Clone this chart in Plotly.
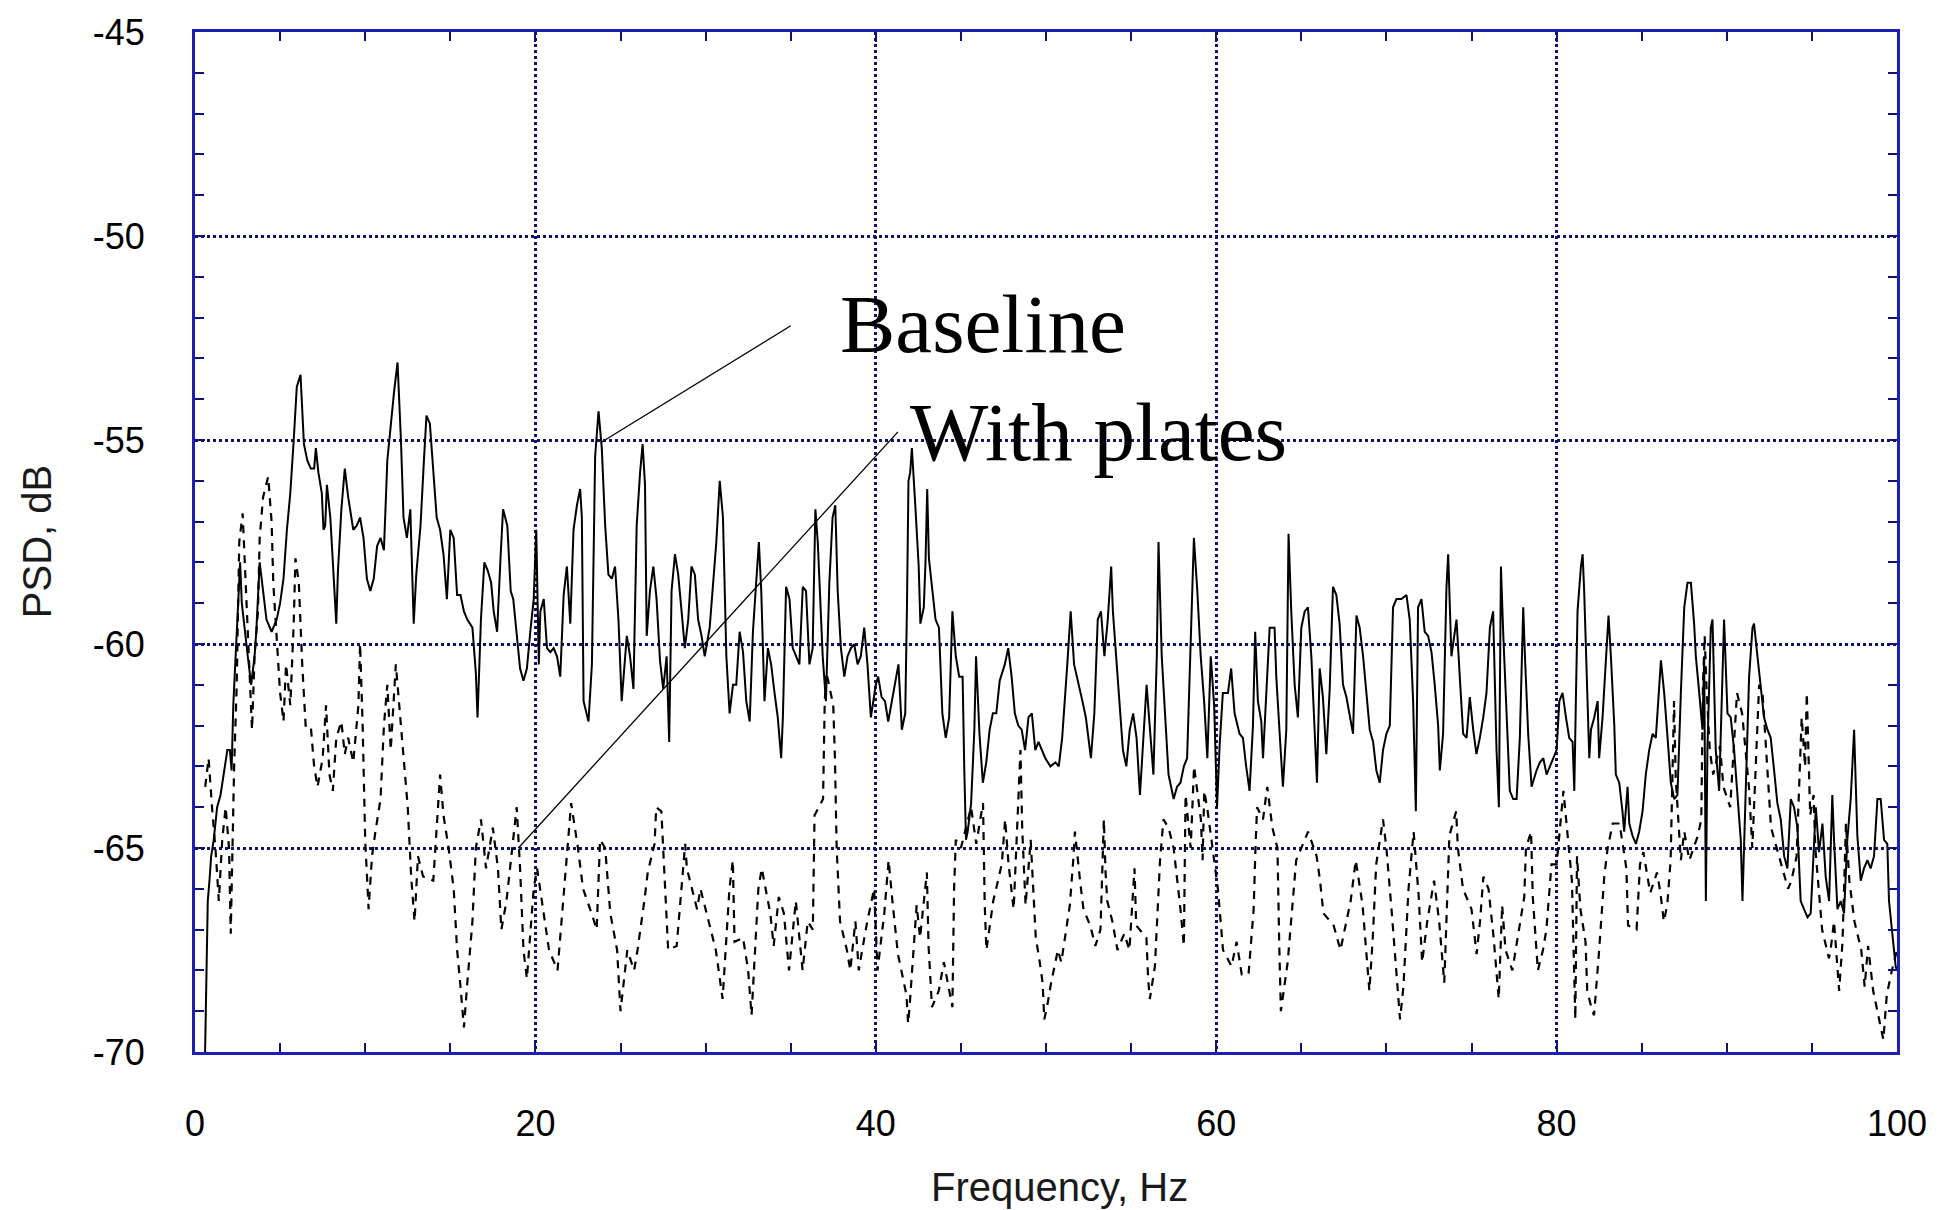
import plotly.graph_objects as go

# ---------------- data ----------------
base_freq = [
    0.55, 0.65, 0.75, 0.85, 0.95, 1.1, 1.3, 1.5, 1.7, 1.9, 2.05, 2.15, 2.25, 2.45, 2.65, 2.75, 2.95, 3.1, 3.3, 3.5,
    3.6, 3.8, 4.0, 4.2, 4.5, 4.8, 5.0, 5.2, 5.4, 5.6, 5.8, 5.98, 6.2, 6.4, 6.6, 6.8, 7.0, 7.1, 7.25, 7.45,
    7.55, 7.65, 7.75, 7.95, 8.1, 8.3, 8.4, 8.6, 8.8, 9.0, 9.3, 9.5, 9.7, 9.9, 10.1, 10.3, 10.5, 10.7, 10.9, 11.1,
    11.3, 11.5, 11.7, 11.9, 12.1, 12.25, 12.45, 12.65, 12.85, 13.0, 13.25, 13.45, 13.6, 13.8, 14.0, 14.2, 14.4, 14.6, 14.8, 15.0,
    15.2, 15.4, 15.6, 15.8, 16.0, 16.3, 16.5, 16.6, 16.8, 17.0, 17.2, 17.4, 17.55, 17.75, 17.95, 18.1, 18.35, 18.55, 18.7, 18.9,
    19.1, 19.3, 19.5, 19.7, 19.9,
    20.05, 20.2, 20.29, 20.49, 20.68, 20.88, 21.07, 21.27, 21.46, 21.66, 21.85, 22.05, 22.24, 22.44, 22.63, 22.73, 22.83, 23.12, 23.32, 23.51,
    23.71, 23.9, 24.1, 24.29, 24.49, 24.68, 24.88, 25.07, 25.37, 25.56, 25.76, 25.95, 26.15, 26.3, 26.44, 26.54, 26.73, 26.93, 27.12, 27.32,
    27.51, 27.71, 27.86, 28.0, 28.2, 28.39, 28.59, 28.78, 28.98, 29.17, 29.37, 29.56, 29.76, 29.95, 30.24, 30.44, 30.63, 30.83, 31.02, 31.22,
    31.41, 31.61, 31.8, 32.0, 32.2, 32.39, 32.59, 32.78, 32.98, 33.13, 33.27, 33.46, 33.66, 33.85, 34.05, 34.24, 34.44, 34.54, 34.73, 34.93,
    35.12, 35.32, 35.51, 35.71, 35.9, 36.1, 36.29, 36.45, 36.59, 36.88, 37.07, 37.27, 37.46, 37.62, 37.76, 37.95, 38.15, 38.34, 38.54, 38.73,
    38.93, 39.12, 39.32, 39.51, 39.71, 40.0,
    40.14, 40.34, 40.54, 40.73, 40.93, 41.13, 41.33, 41.53, 41.73, 41.83, 41.92, 42.02, 42.12, 42.32, 42.52, 42.62, 42.82, 42.92, 43.02, 43.12,
    43.31, 43.51, 43.71, 43.91, 44.11, 44.31, 44.5, 44.7, 44.9, 45.1, 45.2, 45.3, 45.4, 45.6, 45.79, 45.89, 46.09, 46.29, 46.49, 46.69,
    46.88, 47.08, 47.28, 47.58, 47.78, 47.98, 48.17, 48.37, 48.57, 48.77, 48.97, 49.17, 49.37, 49.56, 49.76, 49.96, 50.26, 50.56, 50.75, 50.95,
    51.25, 51.45, 51.65, 51.94, 52.14, 52.34, 52.64, 52.84, 53.04, 53.23, 53.43, 53.63, 53.83, 53.93, 54.13, 54.33, 54.52, 54.72, 54.92, 55.12,
    55.32, 55.52, 55.71, 55.91, 56.11, 56.31, 56.51, 56.61, 56.8, 57.0, 57.2, 57.5, 57.7, 57.9, 58.1, 58.29, 58.49, 58.69, 58.89, 59.09,
    59.29, 59.48, 59.68, 59.88,
    60.05, 60.2, 60.39, 60.69, 60.88, 61.08, 61.37, 61.57, 61.76, 61.96, 62.16, 62.29, 62.45, 62.65, 62.75, 62.94, 63.14, 63.43, 63.53, 63.73,
    63.92, 64.12, 64.25, 64.41, 64.61, 64.8, 65.0, 65.2, 65.39, 65.59, 65.78, 65.92, 66.08, 66.27, 66.47, 66.67, 66.86, 67.06, 67.25, 67.45,
    67.65, 67.84, 68.04, 68.24, 68.43, 68.63, 68.82, 69.02, 69.22, 69.41, 69.61, 69.8, 70.0, 70.2, 70.39, 70.59, 70.88, 71.18, 71.37, 71.57,
    71.73, 71.86, 72.06, 72.25, 72.45, 72.65, 72.84, 73.04, 73.14, 73.33, 73.53, 73.63, 73.82, 74.12, 74.31, 74.51, 74.71, 74.9, 75.1, 75.29,
    75.49, 75.69, 75.88, 76.08, 76.27, 76.47, 76.61, 76.73, 76.86, 77.06, 77.25, 77.45, 77.65, 77.84, 78.04, 78.14, 78.33, 78.53, 78.82, 79.02,
    79.22, 79.41, 79.71, 80.0,
    80.16, 80.35, 80.55, 80.74, 80.94, 81.04, 81.14, 81.23, 81.43, 81.53, 81.62, 81.82, 81.92, 82.02, 82.21, 82.41, 82.5, 82.7, 82.9, 83.05,
    83.19, 83.39, 83.48, 83.68, 83.87, 83.97, 84.17, 84.27, 84.46, 84.66, 84.85, 85.05, 85.24, 85.44, 85.64, 85.83, 86.13, 86.32, 86.52, 86.71,
    86.91, 87.1, 87.3, 87.5, 87.69, 87.89, 88.08, 88.18, 88.38, 88.57, 88.67, 88.77, 88.86, 89.06, 89.16, 89.35, 89.55, 89.75, 89.84, 90.04,
    90.23, 90.43, 90.63, 90.82, 90.92, 91.12, 91.31, 91.51, 91.6, 91.8, 92.0, 92.19, 92.39, 92.58, 92.78, 92.97, 93.17, 93.37, 93.56, 93.76,
    93.95, 94.15, 94.34, 94.54, 94.74, 94.93, 95.23, 95.42, 95.62, 95.81, 96.01, 96.2, 96.3, 96.5, 96.69, 96.89, 97.08, 97.28, 97.48, 97.67,
    97.87, 98.06, 98.26, 98.45, 98.65, 98.85, 99.04, 99.24, 99.43, 99.53, 99.73, 99.92, 100.0,
]
base_psd = [
    -71.0, -68.5, -66.3, -65.8, -65.2, -64.8, -64.0, -63.7, -63.1, -62.6, -62.6, -63.1, -61.5, -59.6, -58.0, -59.0, -59.8, -60.3, -61.0, -60.3,
    -59.7, -58.0, -58.7, -59.4, -59.7, -59.4, -59.0, -58.4, -57.2, -56.3, -55.0, -53.7, -53.4, -55.1, -55.5, -55.7, -55.7, -55.2, -55.8, -56.3,
    -57.2, -57.1, -56.1, -56.9, -58.0, -59.5, -58.2, -56.7, -55.7, -56.4, -57.2, -57.1, -56.9, -57.4, -58.4, -58.7, -58.4, -57.6, -57.4, -57.7,
    -55.5, -54.6, -53.8, -53.1, -55.0, -56.9, -57.4, -56.7, -59.5, -58.3, -57.1, -55.5, -54.4, -54.6, -55.8, -56.9, -57.2, -57.8, -58.9, -57.2,
    -57.4, -58.8, -58.8, -59.2, -59.4, -59.6, -60.7, -61.8, -59.4, -58.0, -58.2, -58.5, -59.2, -59.7, -57.9, -56.7, -57.1, -58.7, -58.9, -59.8,
    -60.6, -60.9, -60.6, -59.7, -58.9,
    -57.2, -60.5, -59.2, -58.9, -60.1, -60.2, -60.1, -60.3, -60.8, -58.8, -58.1, -59.5, -57.2, -56.6, -56.2, -56.9, -61.4, -61.9, -60.5, -55.4,
    -54.3, -55.2, -57.1, -58.3, -58.4, -58.1, -59.4, -61.4, -59.8, -60.3, -61.1, -57.1, -55.8, -55.1, -56.1, -59.8, -58.7, -58.1, -58.9, -60.4,
    -61.1, -60.3, -62.4, -58.7, -57.8, -58.3, -59.2, -60.1, -59.4, -58.1, -58.3, -59.4, -59.8, -60.3, -59.6, -58.5, -57.5, -56.0, -56.9, -60.3,
    -61.7, -61.0, -61.0, -59.7, -60.2, -61.4, -61.9, -59.7, -58.5, -57.5, -58.7, -61.4, -60.1, -60.5, -61.2, -61.8, -62.8, -61.8, -58.6, -58.9,
    -60.1, -60.3, -60.5, -58.6, -58.7, -60.5, -60.1, -56.7, -57.5, -60.3, -61.4, -58.5, -56.9, -56.6, -58.7, -60.1, -60.8, -60.3, -60.1, -60.0,
    -60.5, -60.3, -59.6, -60.5, -61.8, -61.0,
    -60.8, -61.3, -61.4, -61.9, -61.4, -61.0, -60.5, -62.1, -61.7, -59.1, -56.0, -55.8, -55.2, -56.6, -58.1, -59.5, -59.1, -58.0, -56.2, -57.9,
    -58.6, -59.4, -59.6, -61.7, -62.3, -61.8, -59.2, -60.3, -60.8, -60.8, -63.1, -64.8, -64.6, -63.9, -62.1, -60.3, -62.2, -63.4, -62.9, -62.1,
    -61.7, -61.7, -60.9, -60.5, -60.1, -60.8, -61.7, -62.0, -62.1, -62.6, -61.8, -61.7, -62.6, -62.4, -62.6, -62.8, -63.0, -62.9, -63.0, -62.3,
    -60.5, -59.2, -60.5, -61.0, -61.4, -61.8, -62.8, -61.7, -59.4, -59.2, -60.3, -59.4, -58.1, -59.2, -60.4, -61.7, -62.6, -63.0, -62.1, -61.7,
    -62.3, -63.7, -62.3, -61.0, -62.1, -63.2, -60.3, -57.5, -60.3, -61.7, -63.2, -63.8, -63.5, -63.4, -63.0, -62.8, -60.3, -57.4, -58.7, -60.3,
    -61.4, -62.8, -60.3, -61.5,
    -64.0, -62.5, -61.2, -61.2, -60.6, -61.7, -62.2, -62.3, -63.0, -63.6, -62.0, -59.7, -61.4, -61.9, -62.8, -61.1, -59.6, -59.6, -60.8, -62.2,
    -63.5, -62.1, -57.3, -59.2, -61.0, -61.8, -59.6, -59.2, -59.1, -60.3, -62.3, -63.4, -60.6, -61.3, -62.7, -61.1, -58.6, -58.8, -59.5, -61.0,
    -61.3, -61.7, -62.2, -59.3, -59.6, -60.3, -61.2, -62.1, -62.4, -63.1, -63.4, -62.6, -62.2, -62.0, -59.1, -58.9, -58.9, -58.8, -59.4, -61.4,
    -64.1, -59.1, -58.9, -59.7, -59.8, -60.2, -61.0, -62.0, -63.1, -62.2, -58.6, -57.8, -60.3, -59.4, -60.8, -62.2, -62.3, -61.3, -62.1, -62.7,
    -62.3, -61.8, -61.2, -59.6, -59.2, -62.6, -64.0, -58.1, -59.7, -61.9, -63.6, -63.8, -63.8, -62.3, -59.1, -60.3, -62.2, -63.5, -63.1, -62.9,
    -62.8, -63.2, -62.9, -62.6,
    -61.4, -61.2, -61.8, -62.3, -62.4, -63.6, -61.2, -59.2, -58.1, -57.8, -58.7, -61.4, -62.8, -62.1, -61.8, -61.4, -62.8, -61.8, -60.2, -59.3,
    -60.3, -62.0, -63.2, -63.4, -64.1, -64.6, -63.5, -64.4, -64.7, -64.9, -64.6, -64.1, -63.2, -62.6, -62.2, -62.3, -60.4, -61.2, -62.3, -63.4,
    -63.8, -63.7, -61.2, -59.1, -58.5, -58.5, -59.5, -60.3, -61.2, -62.1, -60.3, -66.3, -62.6, -59.6, -59.4, -62.6, -63.6, -60.3, -59.4, -61.7,
    -61.8, -62.6, -63.7, -64.8, -66.3, -63.7, -60.8, -59.6, -59.5, -60.3, -61.0, -61.8, -62.1, -62.3, -63.1, -63.9, -64.3, -65.2, -65.5, -63.8,
    -64.0, -64.5, -66.3, -66.5, -66.7, -66.6, -64.0, -65.1, -64.4, -65.7, -66.3, -63.7, -64.8, -66.5, -66.3, -66.6, -64.8, -63.8, -62.1, -64.7,
    -65.8, -65.5, -65.3, -65.5, -65.2, -63.8, -63.8, -64.8, -64.9, -66.3, -67.2, -67.9, -68.0,
]

plate_freq = [
    0.6, 0.8, 1.0, 1.2, 1.4, 1.6, 1.8, 2.0, 2.1, 2.3, 2.45, 2.6, 2.8, 3.0, 3.2, 3.35, 3.5, 3.7, 3.8, 4.0,
    4.3, 4.5, 4.6, 4.8, 5.0, 5.2, 5.35, 5.6, 5.8, 5.9, 6.1, 6.3, 6.5, 6.8, 7.0, 7.2, 7.5, 7.7, 7.9, 8.1,
    8.3, 8.6, 8.8, 9.0, 9.3, 9.6, 9.7, 9.85, 10.0, 10.2, 10.4, 10.6, 10.9, 11.1, 11.3, 11.5, 11.8, 12.0, 12.2, 12.5,
    12.7, 12.9, 13.1, 13.4, 14.0, 14.4, 14.6, 14.9, 15.2, 15.4, 15.6, 15.8, 16.0, 16.3, 16.5, 16.8, 17.1, 17.5, 17.8, 18.0,
    18.3, 18.6, 18.9, 19.1, 19.3, 19.5, 19.7, 19.9,
    20.1, 20.5, 20.8, 21.3, 21.7, 22.1, 22.5, 22.8, 23.3, 23.6, 23.8, 24.1, 24.4, 24.8, 25.0, 25.4, 25.8, 26.0, 26.4, 26.6,
    27.0, 27.1, 27.4, 27.6, 27.8, 28.3, 28.8, 28.9, 29.5, 29.7, 30.3, 30.6, 31.0, 31.2, 31.4, 31.6, 31.7, 32.2, 32.5, 32.7,
    33.1, 33.3, 33.8, 34.0, 34.3, 34.6, 34.9, 35.3, 35.7, 36.0, 36.3, 36.4, 36.9, 37.0, 37.1, 37.5, 37.6, 37.7, 37.9, 38.3,
    38.5, 38.8, 39.0, 39.2, 39.5, 39.9,
    40.1, 40.5, 40.75, 41.0, 41.3, 41.8, 41.9, 42.0, 42.4, 42.6, 43.0, 43.1, 43.3, 43.7, 44.0, 44.5, 44.6, 44.7, 45.0, 45.3,
    45.6, 45.9, 46.3, 46.4, 46.5, 46.9, 47.4, 47.6, 47.8, 48.1, 48.4, 48.5, 48.6, 48.8, 49.1, 49.3, 49.4, 49.6, 49.8, 49.9,
    50.1, 50.3, 50.7, 50.9, 51.4, 51.6, 51.7, 52.0, 52.2, 52.6, 52.9, 53.2, 53.3, 53.4, 53.5, 53.6, 53.9, 54.2, 54.6, 54.9,
    55.2, 55.3, 55.9, 56.0, 56.1, 56.4, 56.7, 56.9, 57.2, 57.5, 57.9, 58.1, 58.2, 58.5, 58.7, 59.1, 59.2, 59.3, 59.5,
    60.1, 60.4, 60.9, 61.2, 61.5, 61.9, 62.2, 62.3, 62.4, 62.75, 63.0, 63.3, 63.6, 63.7, 63.8, 64.2, 64.7, 65.4, 65.9, 66.1,
    66.3, 66.9, 67.3, 67.9, 68.2, 68.6, 68.8, 69.0, 69.2, 69.4, 69.8, 70.0, 70.3, 70.6, 70.8, 71.0, 71.3, 71.6, 71.9, 72.1,
    72.4, 72.8, 73.1, 73.4, 73.6, 73.7, 74.1, 74.2, 74.5, 75.0, 75.3, 75.5, 75.7, 76.0, 76.3, 76.6, 76.8, 77.0, 77.4, 77.6,
    78.1, 78.2, 78.5, 78.6, 78.9, 79.2, 79.4, 79.7,
    80.0, 80.4, 80.55, 80.9, 81.0, 81.1, 81.2, 81.4, 81.7, 81.8, 82.1, 82.2, 82.5, 82.8, 83.0, 83.3, 83.7, 84.1, 84.2, 84.7,
    84.8, 84.9, 85.1, 85.4, 85.5, 85.9, 86.1, 86.3, 86.5, 86.7, 86.85, 86.9, 87.0, 87.3, 87.5, 87.8, 88.3, 88.5, 88.6, 88.7,
    88.8, 89.0, 89.2, 89.6, 89.8, 90.2, 90.6, 90.9, 91.3, 91.5, 91.7, 91.9, 92.1, 92.4, 92.6, 93.6, 93.8, 94.1, 94.4, 94.6,
    94.7, 94.9, 95.1, 95.2, 95.4, 95.6, 96.0, 96.1, 96.3, 96.6, 96.8, 97.0, 97.2, 97.5, 97.9, 98.1, 98.3, 98.6, 99.2, 99.4,
    99.7, 100.0,
]
plate_psd = [
    -63.5, -62.8, -64.0, -65.0, -66.3, -64.8, -64.0, -65.0, -67.1, -63.0, -61.0, -57.5, -56.8, -58.7, -60.9, -62.1, -60.3, -59.2, -57.4, -56.4,
    -55.9, -57.0, -58.5, -59.8, -61.2, -61.9, -60.5, -61.5, -59.5, -57.9, -58.5, -60.5, -62.0, -62.0, -63.0, -63.5, -62.8, -61.5, -63.2, -63.6,
    -62.3, -61.9, -62.7, -62.3, -62.9, -61.5, -60.0, -62.0, -64.8, -66.5, -65.2, -64.6, -63.8, -62.0, -61.0, -62.6, -60.5, -61.5, -62.5, -64.0,
    -65.7, -66.8, -65.2, -65.7, -65.8, -63.2, -64.2, -65.0, -66.0, -67.5, -68.4, -69.4, -68.3, -66.8, -65.0, -64.3, -65.5, -64.5, -65.5, -67.0,
    -66.3, -65.2, -64.0, -65.5, -67.5, -68.2, -67.0, -66.0,
    -65.5, -66.6, -67.5, -68.0, -66.0, -63.9, -65.0, -66.0, -66.6, -67.0, -64.8, -65.0, -66.6, -67.5, -69.0, -67.5, -68.0, -67.5, -66.3, -65.6,
    -64.9, -64.0, -64.1, -65.8, -67.5, -67.4, -64.9, -65.5, -66.5, -66.0, -67.0, -67.5, -68.7, -67.4, -66.0, -65.3, -67.3, -67.2, -68.0, -69.1,
    -66.0, -65.5, -66.6, -67.4, -66.2, -66.6, -68.0, -66.3, -68.0, -66.8, -67.0, -64.2, -63.8, -61.4, -60.7, -61.5, -62.8, -65.0, -66.8, -67.5,
    -68.0, -66.8, -68.0, -67.5, -66.8, -66.0,
    -68.0, -66.6, -65.3, -66.4, -67.6, -68.6, -69.3, -68.8, -66.4, -67.2, -65.6, -67.4, -68.9, -68.5, -67.8, -68.9, -66.0, -64.8, -65.0, -64.5,
    -64.0, -64.9, -63.9, -66.4, -67.5, -66.3, -65.4, -64.3, -65.4, -66.5, -63.6, -62.6, -64.5, -66.4, -64.8, -66.5, -67.2, -67.7, -68.3, -69.2,
    -68.8, -68.3, -67.5, -67.8, -66.4, -65.3, -64.6, -65.8, -66.5, -66.9, -67.4, -67.0, -65.5, -64.3, -65.6, -66.3, -66.8, -67.5, -67.1, -67.5,
    -65.5, -66.9, -67.2, -68.2, -68.7, -67.9, -65.3, -64.3, -64.5, -65.0, -66.5, -67.4, -63.7, -65.0, -63.0, -64.3, -65.3, -63.6, -64.1,
    -66.0, -67.5, -67.9, -67.3, -68.1, -68.1, -66.5, -65.1, -64.0, -64.3, -63.5, -64.5, -65.0, -67.3, -69.0, -67.8, -65.3, -64.6, -65.2, -65.8,
    -66.6, -66.9, -67.5, -66.3, -65.3, -66.4, -67.5, -68.5, -67.2, -65.4, -64.3, -65.0, -66.5, -68.0, -69.2, -68.4, -66.0, -64.6, -66.2, -67.8,
    -66.8, -65.8, -66.8, -68.3, -65.8, -64.7, -64.1, -65.0, -66.0, -66.5, -67.6, -66.8, -65.7, -66.0, -67.2, -68.7, -66.4, -67.5, -68.0, -67.5,
    -66.2, -65.0, -64.6, -66.2, -68.0, -67.5, -67.0, -65.4,
    -65.4, -63.6, -64.3, -65.8, -67.5, -69.2, -65.2, -66.5, -67.3, -68.5, -69.0, -69.1, -67.5, -65.7, -65.0, -64.4, -64.4, -65.5, -66.9, -67.0,
    -66.2, -65.4, -65.1, -65.8, -66.1, -65.6, -66.1, -66.8, -66.4, -65.3, -62.5, -61.4, -63.3, -65.3, -64.6, -65.3, -64.7, -64.3, -61.0, -59.8,
    -61.0, -62.6, -63.2, -62.5, -63.5, -64.0, -61.2, -61.7, -63.5, -65.0, -63.0, -61.0, -61.2, -63.2, -64.5, -66.0, -65.8, -65.2, -61.8, -63.0,
    -61.2, -64.2, -63.7, -65.0, -66.0, -67.0, -67.7, -67.5, -66.8, -68.5, -67.3, -64.4, -65.8, -66.8, -67.5, -68.4, -67.4, -68.5, -69.7, -68.6,
    -68.0, -67.5,
]

# axis ticks / labels
x_tickvals = [0, 20, 40, 60, 80, 100]
x_ticktext = ["0", "20", "40", "60", "80", "100"]
y_tickvals = [-70, -65, -60, -55, -50, -45]
y_ticktext = ["-70", "-65", "-60", "-55", "-50", "-45"]

# callout labels: text, anchor (Hz, dB), leader line start/end (Hz, dB)
callout_text = ["Baseline", "With plates"]
callout_anchor = [(37.8, -52.15), (41.9, -54.8)]
callout_line = [((23.9, -55.05), (35.0, -52.2)), ((19.0, -65.0), (41.3, -54.8))]

# ---------------- figure ----------------
AXIS_BLUE = "#1e1eb4"
GRID_NAVY = "#12126e"

fig = go.Figure()
fig.add_trace(go.Scatter(x=plate_freq, y=plate_psd, mode="lines", name="With plates",
                         line=dict(color="black", width=2.2, dash="8px,7px")))
fig.add_trace(go.Scatter(x=base_freq, y=base_psd, mode="lines", name="Baseline",
                         line=dict(color="black", width=2)))

for (p0, p1) in callout_line:
    fig.add_shape(type="line", xref="x", yref="y", x0=p0[0], y0=p0[1], x1=p1[0], y1=p1[1],
                  line=dict(color="black", width=1.3))
for txt, (ax_, ay_) in zip(callout_text, callout_anchor):
    fig.add_annotation(x=ax_, y=ay_, xref="x", yref="y", text=txt, showarrow=False,
                       xanchor="left", yanchor="middle",
                       font=dict(family="Liberation Serif, Times New Roman, serif", size=83, color="black"))

# axis titles
fig.add_annotation(x=-0.0927, y=0.5, xref="paper", yref="paper", text="PSD, dB", showarrow=False,
                   textangle=-90, xanchor="center", yanchor="middle",
                   font=dict(family="Liberation Sans, Arial, sans-serif", size=40, color="#1a1a1a"))
fig.add_annotation(x=0.508, y=-0.132, xref="paper", yref="paper", text="Frequency, Hz", showarrow=False,
                   xanchor="center", yanchor="middle",
                   font=dict(family="Liberation Sans, Arial, sans-serif", size=40, color="#1a1a1a"))

tick_font = dict(family="Liberation Sans, Arial, sans-serif", size=36, color="black")
fig.update_xaxes(range=[0, 100], tickmode="array", tickvals=x_tickvals, ticktext=x_ticktext,
                 ticks="inside", ticklen=10, tickwidth=2, tickcolor=GRID_NAVY,
                 showline=True, linecolor=AXIS_BLUE, linewidth=3, mirror="ticks",
                 showgrid=True, gridcolor=GRID_NAVY, gridwidth=2.5, griddash="dot",
                 zeroline=False, tickfont=tick_font, ticklabelstandoff=38,
                 minor=dict(tickmode="linear", tick0=0, dtick=5, ticks="inside", ticklen=9,
                            tickwidth=2, tickcolor=GRID_NAVY, showgrid=False))
fig.update_yaxes(range=[-70, -45], tickmode="array", tickvals=y_tickvals, ticktext=y_ticktext,
                 ticks="inside", ticklen=10, tickwidth=2, tickcolor=GRID_NAVY,
                 showline=True, linecolor=AXIS_BLUE, linewidth=3, mirror="ticks",
                 showgrid=True, gridcolor=GRID_NAVY, gridwidth=2.5, griddash="dot",
                 zeroline=False, tickfont=tick_font, ticklabelstandoff=40,
                 minor=dict(tickmode="linear", tick0=-70, dtick=1, ticks="inside", ticklen=9,
                            tickwidth=2, tickcolor=GRID_NAVY, showgrid=False))

fig.update_layout(width=1939, height=1210, autosize=False,
                  margin=dict(l=195, r=40, t=30, b=158),
                  paper_bgcolor="white", plot_bgcolor="white", showlegend=False)

fig.write_html("out.html", config={"displayModeBar": False},
               post_script="document.body.style.margin='0';document.body.style.overflow='hidden';")
